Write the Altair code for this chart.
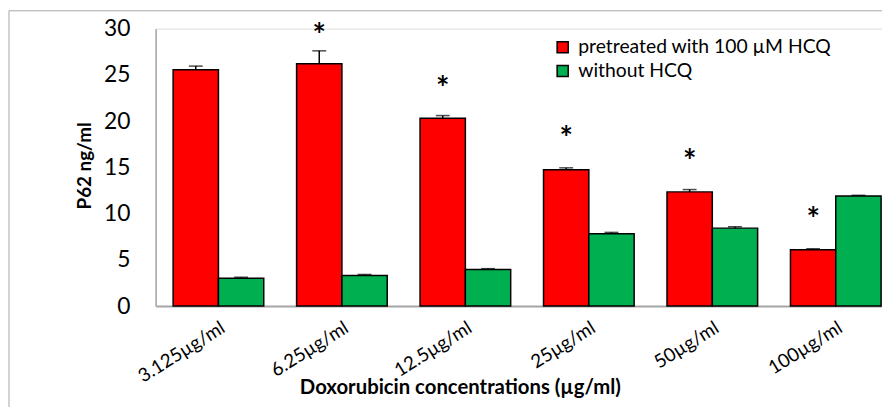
import altair as alt
import pandas as pd

concentrations = ["3.125µg/ml", "6.25µg/ml", "12.5µg/ml", "25µg/ml", "50µg/ml", "100µg/ml"]
series = ["pretreated with 100 µM HCQ", "without HCQ"]
pretreated = [25.55, 26.2, 20.3, 14.75, 12.35, 6.1]
pretreated_err = [0.4, 1.4, 0.3, 0.2, 0.25, 0.1]
without = [3.0, 3.32, 3.95, 7.82, 8.43, 11.9]
without_err = [0.12, 0.1, 0.1, 0.15, 0.15, 0.08]
star_y = [None, 29.9, 24.25, 18.86, 16.3, 10.07]

rows = []
for i, c in enumerate(concentrations):
    rows.append({"conc": c, "group": series[0], "value": pretreated[i], "err": pretreated_err[i]})
    rows.append({"conc": c, "group": series[1], "value": without[i], "err": without_err[i]})
df = pd.DataFrame(rows)

stars = pd.DataFrame([
    {"conc": c, "group": series[0], "sy": s, "label": "*"}
    for c, s in zip(concentrations, star_y) if s is not None
])

W, H = 733, 280
FONT = "Lato"

xscale = alt.Scale(domain=concentrations, paddingInner=0.266, paddingOuter=0.0745, align=0.95, round=False)
xoff = alt.Scale(domain=series, paddingInner=0, paddingOuter=0)
yscale = alt.Scale(domain=[0, 30], nice=False, zero=True)

frame = alt.Chart(pd.DataFrame({"a": [0]})).mark_rect(
    fill=None, stroke="#A6A6A6", strokeWidth=1, clip=False
).encode(
    x=alt.value(-148), x2=alt.value(W + 20), y=alt.value(-18), y2=alt.value(H + 200)
)

base = alt.Chart(df)

bars = base.mark_bar(stroke="black", strokeWidth=1.5).encode(
    x=alt.X("conc:N", scale=xscale, sort=concentrations,
            axis=alt.Axis(title="Doxorubicin concentrations (µg/ml)", labelAngle=-32,
                          labelFontSize=19, labelFont=FONT, labelColor="black",
                          labelPadding=12, ticks=False, domainColor="#A6A6A6", domainWidth=2,
                          titleFont=FONT, titleFontSize=20.5, titleFontWeight="bold",
                          titleColor="black", titleX=307, titleY=88,
                          titleAlign="center", titleBaseline="alphabetic")),
    xOffset=alt.XOffset("group:N", scale=xoff, sort=series),
    y=alt.Y("value:Q", scale=yscale,
            axis=alt.Axis(title="P62 ng/ml", values=[0, 5, 10, 15, 20, 25, 30], grid=False,
                          ticks=False, labelFontSize=23, labelFont=FONT, labelColor="black",
                          labelPadding=26, domainColor="#A6A6A6", domainWidth=1.5,
                          titleFont=FONT, titleFontSize=19, titleFontWeight="bold",
                          titleColor="black", titleAngle=270, titleX=-72, titleY=138,
                          titleAlign="center", titleBaseline="middle")),
    color=alt.Color("group:N", scale=alt.Scale(domain=series, range=["#FF0000", "#00B050"]),
                    sort=series,
                    legend=alt.Legend(title=None, orient="none", legendX=401, legendY=9,
                                      symbolType="square", symbolSize=125,
                                      symbolStrokeColor="black", symbolStrokeWidth=1.5,
                                      labelFont=FONT, labelFontSize=19.5, labelColor="black",
                                      labelLimit=0, rowPadding=3, labelOffset=6)),
)

err_rule = base.mark_rule(color="black", strokeWidth=1.5).transform_calculate(
    hi="datum.value + datum.err"
).encode(
    x=alt.X("conc:N", sort=concentrations),
    xOffset=alt.XOffset("group:N", sort=series),
    y="value:Q",
    y2="hi:Q",
)

err_cap = base.mark_tick(color="black", thickness=1.5, size=14).transform_calculate(
    hi="datum.value + datum.err"
).encode(
    x=alt.X("conc:N", sort=concentrations),
    xOffset=alt.XOffset("group:N", sort=series),
    y="hi:Q",
)

star_text = alt.Chart(stars).mark_text(
    font=FONT, fontSize=32, fontWeight="bold", color="black", baseline="middle", dy=8
).encode(
    x=alt.X("conc:N", sort=concentrations),
    xOffset=alt.XOffset("group:N", sort=series),
    y="sy:Q",
    text="label:N",
)

chart = alt.layer(frame, bars, err_rule, err_cap, star_text).properties(
    width=W, height=H,
    autosize=alt.AutoSizeParams(type="none"),
    padding={"left": 149, "top": 19, "right": 0, "bottom": 100},
).configure_view(stroke=None).configure(background="white")

chart.save("out.html", embed_options={"renderer": "svg", "actions": False})
